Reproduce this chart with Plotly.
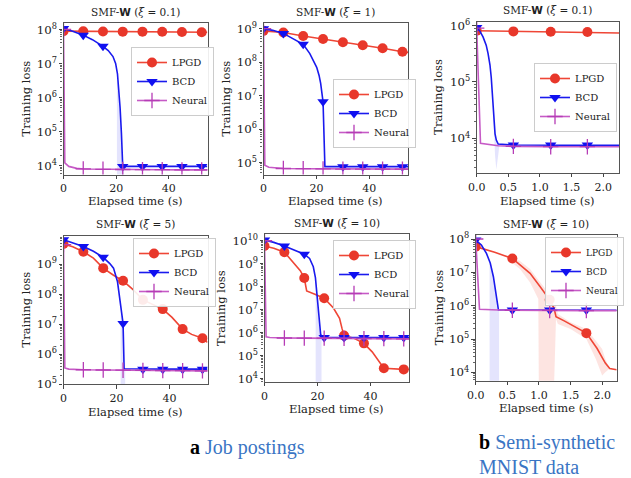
import numpy as np
import plotly.graph_objects as go

W, H = 631, 478

# ---------------- data ----------------
job_marks = [0, 7.5, 15, 22.5, 30, 37.5, 45, 52.5]
mnist_marks = [0, 0.58, 1.17, 1.75]
method_names = ["LPGD", "BCD", "Neural"]
panel_titles = ["0.1", "1", "0.1", "5", "10", "10"]

# panel 1: Job postings, xi = 0.1
p1_lpgd_t = [0, 7.5, 15, 22.5, 30, 37.5, 45, 52.5, 54.6]
p1_lpgd_v = [8.9e7, 8.8e7, 8.7e7, 8.6e7, 8.6e7, 8.5e7, 8.4e7, 8.3e7, 8.3e7]
p1_bcd_t = [0, 3.5, 7.5, 11, 15, 17, 18.8, 19.8, 20.5, 21.0, 21.5, 22.0, 22.5, 30, 37.5, 45, 52.5, 54.6]
p1_bcd_v = [1.07e8, 8.9e7, 6.8e7, 5.0e7, 3.2e7, 2.4e7, 1.6e7, 1.0e7, 5e6, 2e6, 5e5, 9e4, 9.5e3, 9.5e3, 9.5e3, 9.5e3, 9.5e3, 9.5e3]
p1_neu_t = [0, 0.5, 2, 5, 7.5, 15, 22.5, 30, 37.5, 45, 52.5, 54.6]
p1_neu_v = [1e8, 1.2e4, 9.5e3, 8.3e3, 8.0e3, 7.8e3, 7.7e3, 7.6e3, 7.6e3, 7.5e3, 7.5e3, 7.5e3]
p1_band_t = [20.3, 21.0, 21.5, 22.0, 22.6, 23.0]
p1_band_hi = [5e6, 2e6, 5e5, 9e4, 9.5e3, 9.5e3]
p1_band_lo = [1e3, 1e3, 1e3, 1e3, 1e3, 1e3]

# panel 2: Job postings, xi = 1
p2_lpgd_t = [0, 7.5, 15, 22.5, 30, 37.5, 45, 52.5, 54.6]
p2_lpgd_v = [8.6e8, 7.7e8, 6.0e8, 4.9e8, 3.9e8, 3.2e8, 2.6e8, 2.05e8, 1.95e8]
p2_bcd_t = [0, 3.5, 7.5, 11, 15, 17.5, 19, 20.1, 21, 21.6, 22.5, 23.2, 30, 37.5, 45, 52.5, 54.6]
p2_bcd_v = [1e9, 8.9e8, 7.2e8, 5.2e8, 3.4e8, 1.8e8, 1.1e8, 7e7, 4e7, 2.3e7, 6.5e6, 7.5e4, 7.5e4, 7.5e4, 7.5e4, 7.5e4, 7.5e4]
p2_neu_t = [0, 0.5, 2, 5, 7.5, 15, 22.5, 30, 37.5, 45, 52.5, 54.6]
p2_neu_v = [1e9, 8.3e4, 7.2e4, 6.8e4, 6.6e4, 6.5e4, 6.4e4, 6.3e4, 6.3e4, 6.3e4, 6.3e4, 6.3e4]

# panel 3: MNIST, xi = 0.1
p3_lpgd_t = [0, 0.58, 1.17, 1.75, 2.25]
p3_lpgd_v = [8.1e5, 7.9e5, 7.8e5, 7.7e5, 7.4e5]
p3_bcd_t = [0, 0.05, 0.1, 0.15, 0.18, 0.21, 0.23, 0.26, 0.29, 0.31, 0.34, 0.58, 1.17, 1.75, 2.25]
p3_bcd_v = [9.3e5, 8e5, 6.3e5, 4.5e5, 3.2e5, 2e5, 1.2e5, 3.2e4, 1.2e4, 9.3e3, 7.9e3, 7.6e3, 7.6e3, 7.6e3, 7.5e3]
p3_neu_t = [0, 0.06, 0.34, 0.58, 1.17, 1.75, 2.25]
p3_neu_v = [9e5, 8.2e3, 7.4e3, 7.2e3, 7.1e3, 7.1e3, 7.1e3]
p3_band_t = [0.26, 0.29, 0.31, 0.34, 0.36]
p3_band_hi = [3.2e4, 1.2e4, 9.3e3, 7.9e3, 7.8e3]
p3_band_lo = [3e4, 5e3, 2.8e3, 5e3, 7.5e3]

# panel 4: Job postings, xi = 5
p4_lpgd_t = [0, 3.5, 7.5, 11.3, 15, 18.9, 22.5, 26.4, 30, 33.4, 37.5, 41, 45, 48.4, 52.5, 54.4]
p4_lpgd_v = [4.7e9, 3.8e9, 2.6e9, 1.6e9, 7.4e8, 4.3e8, 2.8e8, 1.4e8, 6.5e7, 4.8e7, 3.2e7, 1.7e7, 6.9e6, 4.6e6, 3.4e6, 2.5e6]
p4_bcd_t = [0, 3.5, 7.5, 11.3, 15, 17.5, 18.9, 20.4, 21.4, 22.5, 22.9, 30, 37.5, 45, 52.5, 54.4]
p4_bcd_v = [6.5e9, 5.2e9, 3.9e9, 2.7e9, 1.7e9, 1.05e9, 7.4e8, 2.6e8, 5.6e7, 1.07e7, 3.3e5, 3.2e5, 3.2e5, 3.2e5, 3.2e5, 3.2e5]
p4_neu_t = [0, 0.5, 2, 5, 7.5, 15, 22.5, 30, 37.5, 45, 52.5, 54.4]
p4_neu_v = [4.5e9, 3.5e5, 3.2e5, 3.1e5, 3.05e5, 3e5, 2.95e5, 2.9e5, 2.85e5, 2.85e5, 2.8e5, 2.8e5]
p4_band_t = [21.6, 22.5, 22.9, 23.3]
p4_band_hi = [5e7, 1.07e7, 3.3e5, 3.2e5]
p4_band_lo = [1e4, 1e4, 1e4, 1e4]

# panel 5: Job postings, xi = 10
p5_lpgd_t = [0, 3.5, 7.5, 11.4, 13.5, 15, 15.9, 19, 22.5, 26, 28.3, 29.2, 30, 33.6, 37.5, 40.6, 43.2, 45, 52.5, 54.6]
p5_lpgd_v = [5.9e9, 4.7e9, 3.2e9, 8.9e8, 5e8, 2.4e8, 6.6e7, 4.7e7, 3.2e7, 1.2e7, 4.3e6, 1.6e6, 7.6e5, 5.9e5, 3.5e5, 1.5e5, 5.6e4, 2.9e4, 2.6e4, 2.6e4]
p5_bcd_t = [0, 3.5, 7.5, 11.4, 15, 17, 18.4, 19.2, 19.7, 20.3, 21.2, 22.5, 30, 37.5, 45, 52.5, 54.6]
p5_bcd_v = [1.07e10, 8.5e9, 5.9e9, 4e9, 2.6e9, 1.7e9, 7.4e8, 2.5e8, 6.2e7, 6e6, 8.1e5, 6.3e5, 6.3e5, 6.3e5, 6.3e5, 6.3e5, 6.3e5]
p5_neu_t = [0, 0.6, 2, 5, 7.5, 15, 22.5, 30, 37.5, 45, 52.5, 54.6]
p5_neu_v = [1e10, 6.8e5, 6.3e5, 6e5, 6e5, 5.9e5, 5.9e5, 5.75e5, 5.6e5, 5.6e5, 5.5e5, 5.5e5]
p5_band_t = [19.3, 19.7, 20.3, 21.2, 21.5]
p5_band_hi = [2.5e8, 6.2e7, 6e6, 8.1e5, 6.3e5]
p5_band_lo = [1e3, 1e3, 1e3, 1e3, 1e3]

# panel 6: MNIST, xi = 10
p6_lpgd_t = [0, 0.3, 0.58, 0.86, 1.02, 1.17, 1.24, 1.27, 1.4, 1.52, 1.75, 1.92, 2.05, 2.12, 2.23]
p6_lpgd_v = [5.9e7, 4e7, 2.6e7, 9.3e6, 3.7e6, 1.5e6, 8.3e5, 4.7e5, 3.5e5, 2.6e5, 1.5e5, 5.2e4, 1.9e4, 1.3e4, 1.2e4]
p6_bcd_t = [0, 0.09, 0.17, 0.23, 0.28, 0.33, 0.36, 0.58, 1.17, 1.75, 2.23]
p6_bcd_v = [9.3e7, 6.6e7, 3.7e7, 1.9e7, 7.4e6, 1.9e6, 7.4e5, 7.4e5, 7.4e5, 7.4e5, 7.3e5]
p6_neu_t = [0, 0.06, 0.36, 0.58, 1.17, 1.75, 2.23]
p6_neu_v = [1e8, 7.8e5, 7.4e5, 7.3e5, 7.2e5, 7.1e5, 7.1e5]
p6_band_t = [0.22, 0.28, 0.33, 0.37]
p6_band_hi = [2e7, 7.4e6, 1.9e6, 7.4e5]
p6_band_lo = [1e3, 1e3, 1e3, 1e3]
p6_lband_t = [0.5, 0.7, 0.86, 0.99, 1.0, 1.17, 1.23, 1.27, 1.3, 1.5, 1.75, 1.9, 2.0, 2.05, 2.12]
p6_lband_hi = [3.2e7, 2.2e7, 1.26e7, 5.6e6, 5.6e6, 2.2e6, 1.1e6, 1e6, 5.6e5, 3.2e5, 2e5, 8.9e4, 5e4, 2.5e4, 1.3e4]
p6_lband_lo = [2.5e7, 1.26e7, 5e6, 1.6e6, 1e3, 1e3, 1e3, 4e5, 2.8e5, 2e5, 1e5, 2.5e4, 8e3, 1e4, 1.3e4]

# ---------------- styles ----------------
FONT = "DejaVu Serif"
C_LPGD_LINE, C_LPGD_MK = "#ef4636", "#e8372a"
C_BCD_LINE, C_BCD_MK = "#1a1aee", "#1010f0"
C_NEU_LINE, C_NEU_MK = "#c65ac6", "#b63cb6"
BAND_RED = "rgba(240,90,70,0.16)"
BAND_BLUE = "rgba(90,90,240,0.16)"

# pixel geometry of panels: (left, right, top, bottom)
geom = [
    (63.5, 207.5, 23.3, 174.5),
    (263.5, 408.0, 23.3, 174.5),
    (476.7, 619.0, 21.7, 172.7),
    (63.5, 207.5, 235.7, 384.3),
    (264.5, 409.3, 234.3, 381.7),
    (475.7, 616.7, 235.0, 380.7),
]
xranges = [[0, 54.7], [0, 54.6], [0, 2.25], [0, 54.4], [0, 54.6], [0, 2.23]]
yranges = [[3.74, 8.18], [4.64, 9.16], [3.39, 6.07], [5.0, 9.95], [3.88, 10.28], [3.75, 8.12]]
# legend boxes: (left, top, font size) in pixels
legend_pos = [(131, 47, 10), (333, 79, 10), (534, 63, 10), (133, 238, 10), (333, 240, 10), (545, 237, 9)]
ylabel_x = [25.5, 225.5, 438.5, 25.5, 221, 438.5]
xlabel_y = [201.5, 201.5, 200.5, 411.5, 408.5, 407.5]

panels = [
    dict(lpgd=(p1_lpgd_t, p1_lpgd_v), bcd=(p1_bcd_t, p1_bcd_v), neu=(p1_neu_t, p1_neu_v),
         marks=job_marks, bands=[(p1_band_t, p1_band_hi, p1_band_lo, BAND_BLUE)]),
    dict(lpgd=(p2_lpgd_t, p2_lpgd_v), bcd=(p2_bcd_t, p2_bcd_v), neu=(p2_neu_t, p2_neu_v),
         marks=job_marks, bands=[]),
    dict(lpgd=(p3_lpgd_t, p3_lpgd_v), bcd=(p3_bcd_t, p3_bcd_v), neu=(p3_neu_t, p3_neu_v),
         marks=mnist_marks, bands=[(p3_band_t, p3_band_hi, p3_band_lo, BAND_BLUE)]),
    dict(lpgd=(p4_lpgd_t, p4_lpgd_v), bcd=(p4_bcd_t, p4_bcd_v), neu=(p4_neu_t, p4_neu_v),
         marks=job_marks, bands=[(p4_band_t, p4_band_hi, p4_band_lo, BAND_BLUE)]),
    dict(lpgd=(p5_lpgd_t, p5_lpgd_v), bcd=(p5_bcd_t, p5_bcd_v), neu=(p5_neu_t, p5_neu_v),
         marks=job_marks, bands=[(p5_band_t, p5_band_hi, p5_band_lo, BAND_BLUE)]),
    dict(lpgd=(p6_lpgd_t, p6_lpgd_v), bcd=(p6_bcd_t, p6_bcd_v), neu=(p6_neu_t, p6_neu_v),
         marks=mnist_marks, bands=[(p6_band_t, p6_band_hi, p6_band_lo, BAND_BLUE),
                                   (p6_lband_t, p6_lband_hi, p6_lband_lo, BAND_RED)]),
]

styles = {
    "lpgd": dict(line=C_LPGD_LINE, mk=dict(symbol="circle", size=10, color=C_LPGD_MK, line=dict(width=0))),
    "bcd": dict(line=C_BCD_LINE, mk=dict(symbol="triangle-down", size=10, color=C_BCD_MK, line=dict(width=0))),
    "neu": dict(line=C_NEU_LINE, mk=dict(symbol="cross-thin", size=11, color=C_NEU_MK, line=dict(width=1.3, color=C_NEU_MK))),
}

fig = go.Figure()

def px_x(v):
    return v / W

def px_y(v):
    return 1 - v / H

for i, p in enumerate(panels):
    n = "" if i == 0 else str(i + 1)
    xa, ya = "x" + n, "y" + n
    lg = "legend" + n
    for (bt, bhi, blo, bc) in p["bands"]:
        fig.add_trace(go.Scatter(x=list(bt) + list(bt)[::-1], y=list(bhi) + list(blo)[::-1],
                                 fill="toself", fillcolor=bc, mode="lines", line=dict(width=0),
                                 hoverinfo="skip", showlegend=False, xaxis=xa, yaxis=ya))
    for key, name in zip(["lpgd", "bcd", "neu"], method_names):
        t, v = p[key]
        st = styles[key]
        t_arr, v_arr = np.array(t), np.array(v)
        sel = np.array([np.any(np.isclose(tt, p["marks"], atol=1e-6)) for tt in t_arr])
        fig.add_trace(go.Scatter(x=t_arr, y=v_arr, mode="lines", line=dict(color=st["line"], width=1.6),
                                 showlegend=False, xaxis=xa, yaxis=ya))
        fig.add_trace(go.Scatter(x=t_arr[sel], y=v_arr[sel], mode="markers", marker=st["mk"],
                                 showlegend=False, xaxis=xa, yaxis=ya))
        fig.add_trace(go.Scatter(x=[None], y=[None], mode="lines+markers", name=name,
                                 line=dict(color=st["line"], width=1.6), marker=st["mk"],
                                 legend=lg, xaxis=xa, yaxis=ya))

layout = dict(width=W, height=H, margin=dict(l=0, r=0, t=0, b=0, autoexpand=False),
              paper_bgcolor="white", plot_bgcolor="white",
              font=dict(family=FONT, color="#222", size=11))
annotations = []

def note(x, y, text, size, family=FONT, xanchor="center", angle=0, color="#222"):
    annotations.append(dict(x=px_x(x), y=px_y(y), xref="paper", yref="paper", showarrow=False,
                            xanchor=xanchor, yanchor="middle", text=text, textangle=angle,
                            font=dict(family=family, size=size, color=color)))

for i, (l, r, t, b) in enumerate(geom):
    n = "" if i == 0 else str(i + 1)
    is_mnist = i in (2, 5)
    layout["xaxis" + n] = dict(
        domain=[px_x(l), px_x(r)], anchor="y" + n, range=xranges[i],
        showline=True, mirror=True, linecolor="#555", linewidth=1.3,
        ticks="outside", ticklen=3.5, tickcolor="#444", showgrid=False, zeroline=False,
        tickvals=[0, 0.5, 1.0, 1.5, 2.0] if is_mnist else [0, 20, 40],
        ticktext=["0.0", "0.5", "1.0", "1.5", "2.0"] if is_mnist else ["0", "20", "40"],
        tickfont=dict(family=FONT, size=11, color="#222"))
    layout["yaxis" + n] = dict(
        domain=[px_y(b), px_y(t)], anchor="x" + n, type="log", range=yranges[i],
        showline=True, mirror=True, linecolor="#555", linewidth=1.3,
        ticks="outside", ticklen=3.5, tickcolor="#444", showgrid=False, zeroline=False,
        dtick=1, exponentformat="power",
        minor=dict(ticks="outside", ticklen=2, tickcolor="#666", showgrid=False),
        tickfont=dict(family=FONT, size=9.4, color="#222"))
    lx, ly, lfs = legend_pos[i]
    layout["legend" + n] = dict(x=px_x(lx), y=px_y(ly), xanchor="left", yanchor="top",
                                bgcolor="rgba(255,255,255,0.9)", bordercolor="#cccccc", borderwidth=1,
                                font=dict(family=FONT, size=lfs, color="#222"),
                                itemwidth=30, tracegroupgap=0)
    note((l + r) / 2, t - 11.5,
         "SMF-<b><span style='font-family:DejaVu Sans'>W</span></b> (<i>\u03be</i> = " + panel_titles[i] + ")",
         10.5)
    note(ylabel_x[i], (t + b) / 2, "Training loss", 11.5, angle=-90)
    note((l + r) / 2, xlabel_y[i], "Elapsed time (s)", 11.5)

CAP = "Liberation Serif"
note(188, 447, "<b>a</b> <span style='color:#3a75c4'>Job postings</span>", 20, family=CAP, xanchor="left", color="black")
note(477, 442, "<b>b</b> <span style='color:#3a75c4'>Semi-synthetic</span>", 20, family=CAP, xanchor="left", color="black")
note(477, 467, "<span style='color:#3a75c4'>MNIST data</span>", 20, family=CAP, xanchor="left", color="black")
layout["annotations"] = annotations
fig.update_layout(**layout)
fig.write_html("out.html", config={"displayModeBar": False},
               post_script="document.body.style.margin='0';document.body.style.overflow='hidden';")
